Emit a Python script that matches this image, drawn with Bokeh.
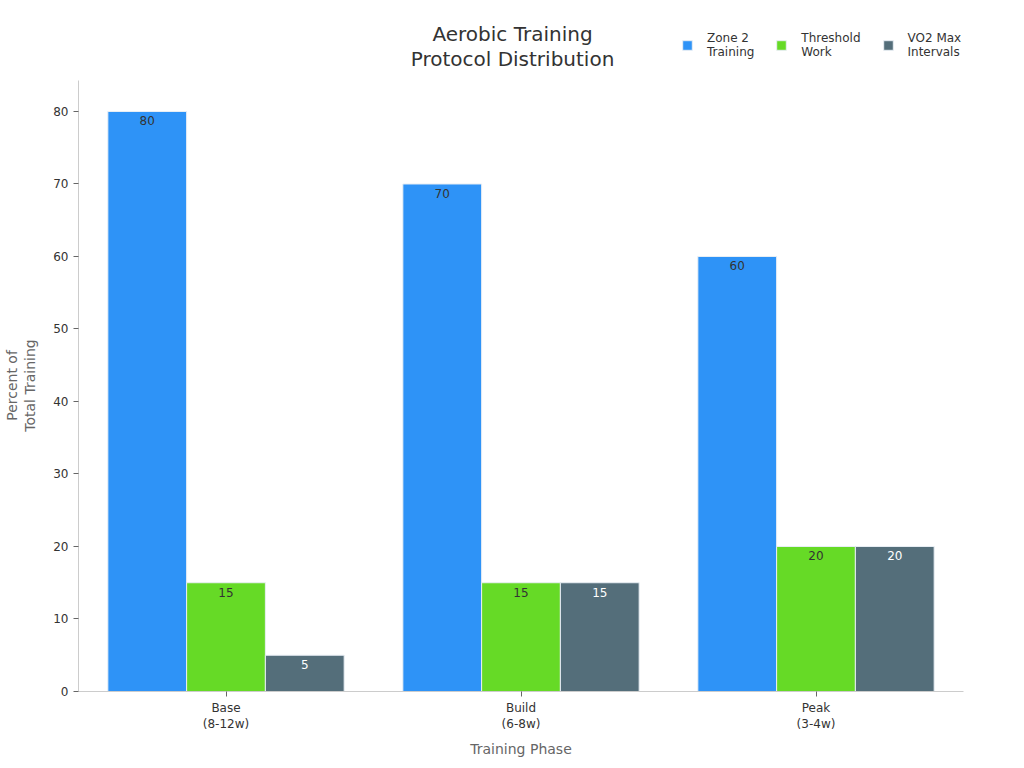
import math
from bokeh.plotting import figure
from bokeh.layouts import row
from bokeh.models import (ColumnDataSource, FactorRange, Legend, LegendItem, Range1d,
                          FixedTicker, Label)
from bokeh.transform import dodge
from bokeh.core.properties import value
from bokeh.embed import file_html
from bokeh.resources import INLINE

# data
phases = ["Base\n(8-12w)", "Build\n(6-8w)", "Peak\n(3-4w)"]
zone2 = [80, 70, 60]
threshold = [15, 15, 20]
vo2max = [5, 15, 20]

series_names = ["Zone 2\nTraining", "Threshold\nWork", "VO2 Max\nIntervals"]
colors = ["#2E93F7", "#66DA26", "#546E7A"]
label_colors = ["#333333", "#333333", "#FFFFFF"]
title_lines = ["Aerobic Training", "Protocol Distribution"]
ylabel_lines = ["Percent of", "Total Training"]
y_ticks = [0, 10, 20, 30, 40, 50, 60, 70, 80]
y_max = 84.3

FONT = "DejaVu Sans"

src = ColumnDataSource(data=dict(
    phase=phases,
    zone2=zone2,
    threshold=threshold,
    vo2=vo2max,
    zone2_txt=[str(v) for v in zone2],
    threshold_txt=[str(v) for v in threshold],
    vo2_txt=[str(v) for v in vo2max],
))

# the frame runs up to the top of the canvas so the title and legend can live
# inside it; the y axis is bounded to the real data range
p = figure(
    x_range=FactorRange(factors=phases, range_padding=0),
    y_range=Range1d(0, 95.31),
    width=960, height=760,
    output_backend="svg",
    toolbar_location=None, tools="",
    min_border_left=38, min_border_right=37,
    min_border_top=0, min_border_bottom=40,
)

bw = 0.267
offsets = [-bw, 0, bw]
cols = ["zone2", "threshold", "vo2"]
items = []
for col, off, c, lc, name in zip(cols, offsets, colors, label_colors, series_names):
    r = p.vbar(x=dodge("phase", off, range=p.x_range), top=col, width=bw, source=src,
               fill_color=c, line_color="#E8EEF4", line_width=1)
    p.text(x=dodge("phase", off, range=p.x_range), y=col, text=col + "_txt", source=src,
           text_align="center", text_baseline="top", y_offset=5,
           text_font_size="12px", text_color=lc, text_font=value(FONT))
    items.append(LegendItem(label=name, renderers=[r]))

# title, two centred lines
for txt, yy in zip(title_lines, [658, 633]):
    p.add_layout(Label(x=434, y=yy, x_units="screen", y_units="screen", text=txt,
                       text_align="center", text_baseline="alphabetic",
                       text_font_size="20px", text_color="#333333", text_font=FONT))

legend = Legend(items=items, orientation="horizontal", location=(603, 632),
                glyph_width=12, glyph_height=12, label_text_font_size="12px",
                label_text_color="#333333", label_text_font=FONT,
                spacing=21, padding=4, border_line_color=None,
                background_fill_alpha=0, label_standoff=14)
p.add_layout(legend, "center")

# axes
p.xgrid.grid_line_color = None
p.ygrid.grid_line_color = None
p.outline_line_color = None
p.yaxis.ticker = FixedTicker(ticks=y_ticks)
p.yaxis.bounds = (0, y_max)
for ax in (p.xaxis, p.yaxis):
    ax.axis_line_color = "#CCCCCC"
    ax.major_tick_line_color = "#666666"
    ax.minor_tick_line_color = None
    ax.major_tick_out = 5
    ax.major_tick_in = 0
    ax.major_label_text_font_size = "12px"
    ax.major_label_text_color = "#333333"
    ax.major_label_text_font = FONT
    ax.axis_label_text_font_size = "14px"
    ax.axis_label_text_color = "#666666"
    ax.axis_label_text_font_style = "normal"
    ax.axis_label_text_font = FONT
p.xaxis.axis_label = "Training Phase"
p.xaxis.major_label_standoff = 4
p.xaxis.axis_label_standoff = 7

# y axis title in a narrow strip to the left, centred on the bounded axis
side = figure(width=40, height=760, x_range=Range1d(0, 40), y_range=Range1d(0, 1),
              x_axis_type=None, y_axis_type=None, output_backend="svg",
              toolbar_location=None, tools="", min_border=0)
side.grid.visible = False
side.outline_line_color = None
for txt, xx in zip(ylabel_lines, [11, 29]):
    side.add_layout(Label(x=xx, y=306, x_units="screen", y_units="screen", text=txt,
                          angle=math.pi / 2, text_align="center", text_baseline="middle",
                          text_font_size="14px", text_color="#666666", text_font=FONT))

page = row(side, p, spacing=0)
open("out.html", "w").write(file_html(page, INLINE))
